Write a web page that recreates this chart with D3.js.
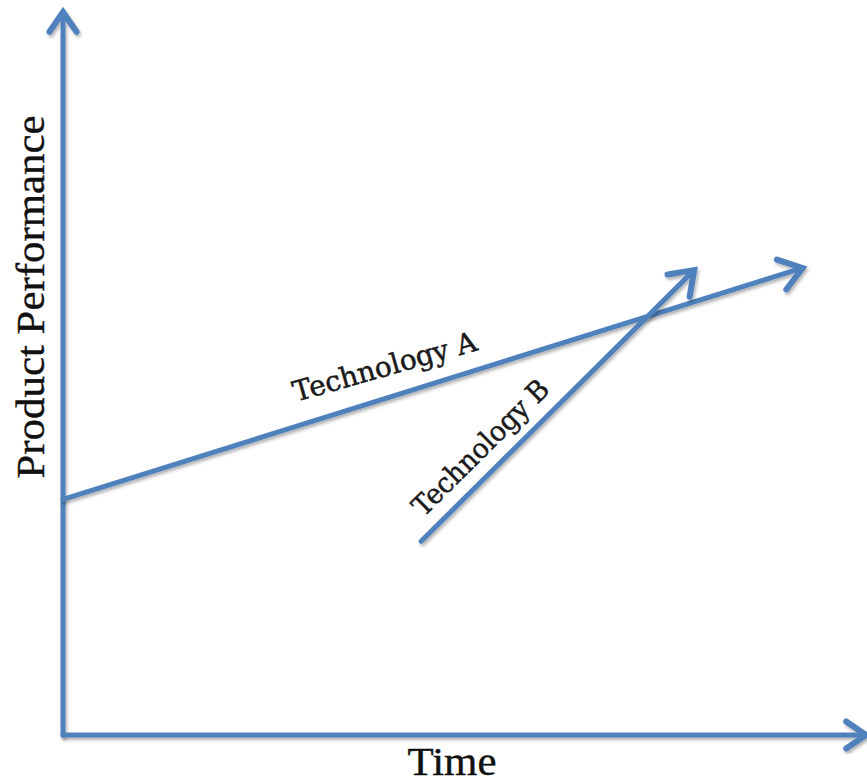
<!DOCTYPE html>
<html>
<head>
<meta charset="utf-8">
<script src="https://cdn.jsdelivr.net/npm/d3@7"></script>
<style>
  body { margin: 0; background: #fff; }
  svg { display: block; }
</style>
</head>
<body>
<div id="chart"></div>
<script>
var wide = 867;
var high = 784;

// values on a 0-100 scale
var seriesNames = ["Technology A", "Technology B"];
var seriesTime = [[0, 92.1], [44.6, 78.6]];
var seriesPerf = [[32.6, 64.6], [26.8, 64.3]];
var axisLabels = ["Time", "Product Performance"];

var blue = "#4f81bd";

var svg = d3.select("#chart")
  .append("svg")
  .attr("width", wide)
  .attr("height", high);

var defs = svg.append("defs");
defs.append("filter")
  .attr("id", "shadow")
  .attr("x", "-20%").attr("y", "-20%")
  .attr("width", "140%").attr("height", "140%")
  .append("feDropShadow")
  .attr("dx", 1.5).attr("dy", 2.5)
  .attr("stdDeviation", 1.8)
  .attr("flood-color", "#000")
  .attr("flood-opacity", 0.3);

var xScale = d3.scaleLinear().domain([0, 100]).range([63, 866]);
var yScale = d3.scaleLinear().domain([0, 100]).range([735, 12]);

// line with an open chevron head at the end
function arrow(x1, y1, x2, y2, headLen, headAng) {
  var ang = Math.atan2(y2 - y1, x2 - x1);
  var g = svg.append("g").attr("filter", "url(#shadow)");
  g.append("line")
    .attr("x1", x1).attr("y1", y1)
    .attr("x2", x2).attr("y2", y2)
    .attr("stroke", blue)
    .attr("stroke-width", 5)
    .attr("stroke-linecap", "round");
  var pts = [
    [x2 - headLen * Math.cos(ang - headAng), y2 - headLen * Math.sin(ang - headAng)],
    [x2, y2],
    [x2 - headLen * Math.cos(ang + headAng), y2 - headLen * Math.sin(ang + headAng)]
  ];
  g.append("path")
    .attr("d", d3.line()(pts))
    .attr("fill", "none")
    .attr("stroke", blue)
    .attr("stroke-width", 6)
    .attr("stroke-linejoin", "miter")
    .attr("stroke-linecap", "round");
}

// axes
arrow(xScale(0), yScale(0), xScale(0), yScale(100), 24, 0.6);
arrow(xScale(0), yScale(0), xScale(100), yScale(0), 24, 0.6);

// technology lines
seriesNames.forEach(function(name, i) {
  arrow(xScale(seriesTime[i][0]), yScale(seriesPerf[i][0]),
        xScale(seriesTime[i][1]), yScale(seriesPerf[i][1]), 27, 0.62);
});

// line labels, placed along each line
function lineLabel(i, t, offset, tilt, len) {
  var x1 = xScale(seriesTime[i][0]), y1 = yScale(seriesPerf[i][0]);
  var x2 = xScale(seriesTime[i][1]), y2 = yScale(seriesPerf[i][1]);
  var ang = Math.atan2(y2 - y1, x2 - x1);
  var px = x1 + (x2 - x1) * t + offset * Math.sin(ang);
  var py = y1 + (y2 - y1) * t - offset * Math.cos(ang);
  svg.append("text")
    .attr("transform", "translate(" + px + "," + py + ") rotate(" + (ang * 180 / Math.PI + tilt) + ")")
    .attr("text-anchor", "middle")
    .attr("font-family", "DejaVu Serif, serif")
    .attr("font-size", 28)
    .attr("textLength", len)
    .attr("lengthAdjust", "spacingAndGlyphs")
    .attr("fill", "#1a1a1a")
    .attr("stroke", "#1a1a1a")
    .attr("stroke-width", 0.5)
    .text(seriesNames[i]);
}
lineLabel(0, 0.447, 21, 1.5, 190);
lineLabel(1, 0.281, 15, 0, 180);

// axis titles
svg.append("text")
  .attr("x", 452)
  .attr("y", 775)
  .attr("text-anchor", "middle")
  .attr("font-family", "Liberation Serif, serif")
  .attr("font-size", 40)
  .attr("textLength", 89)
  .attr("lengthAdjust", "spacingAndGlyphs")
  .attr("fill", "#111")
  .attr("stroke", "#111")
  .attr("stroke-width", 0.4)
  .text(axisLabels[0]);

svg.append("text")
  .attr("transform", "translate(44,297) rotate(-90)")
  .attr("text-anchor", "middle")
  .attr("font-family", "Liberation Serif, serif")
  .attr("font-size", 40)
  .attr("textLength", 363)
  .attr("lengthAdjust", "spacingAndGlyphs")
  .attr("fill", "#111")
  .attr("stroke", "#111")
  .attr("stroke-width", 0.4)
  .text(axisLabels[1]);
</script>
</body>
</html>
